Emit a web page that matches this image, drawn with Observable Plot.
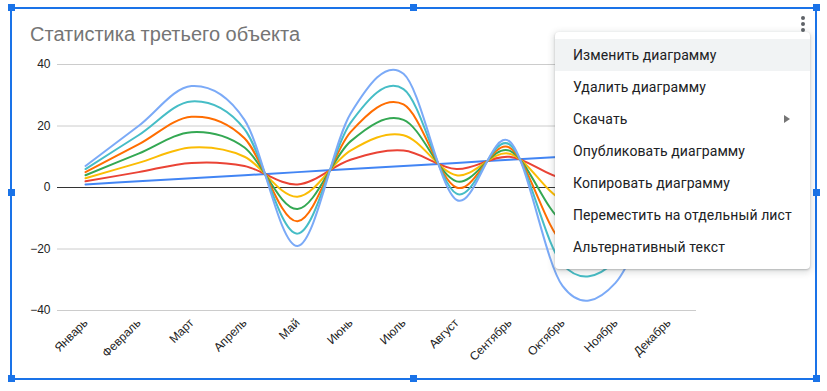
<!DOCTYPE html>
<html>
<head>
<meta charset="utf-8">
<script src="https://cdn.jsdelivr.net/npm/d3@7"></script>
<script src="https://cdn.jsdelivr.net/npm/@observablehq/plot@0.6"></script>
<style>
html, body { margin: 0; padding: 0; background: #fff; }
#wrap { position: relative; width: 827px; height: 391px; overflow: hidden; font-family: "Liberation Sans", Arial, sans-serif; }
#chart { position: absolute; left: 0; top: 0; }
#title { position: absolute; left: 30px; top: 23px; font-size: 20px; line-height: normal; color: #757575; white-space: nowrap; }
.frame { position: absolute; background: #1a73e8; }
.handle { position: absolute; width: 7px; height: 7px; background: #1a73e8; }
.dot { position: absolute; left: 801px; width: 4px; height: 4px; border-radius: 50%; background: #5f6368; }
#menu { position: absolute; left: 555px; top: 32px; width: 255px; height: 237px; background: #fff; border-radius: 4px;
  box-shadow: 0 2px 6px 2px rgba(60,64,67,.15), 0 1px 2px rgba(60,64,67,.3);
  font-family: Roboto, "Noto Sans", sans-serif; font-size: 14px; color: #202124; padding-top: 7px; box-sizing: border-box; z-index: 5; }
.item { height: 32px; line-height: 32px; padding-left: 18px; position: relative; white-space: nowrap; letter-spacing: 0.1px; }
.item.hl { background: #f1f3f4; }
.arrow { position: absolute; right: 20px; top: 12px; width: 0; height: 0; border-left: 6px solid #757575; border-top: 4px solid transparent; border-bottom: 4px solid transparent; }
</style>
</head>
<body>
<div id="wrap">
  <div id="chart"></div>
  <div id="title">Статистика третьего объекта</div>
  <div class="frame" style="left:10px;top:7px;width:807px;height:2px"></div>
  <div class="frame" style="left:10px;top:378px;width:807px;height:2px"></div>
  <div class="frame" style="left:10px;top:7px;width:2px;height:373px"></div>
  <div class="frame" style="left:815px;top:7px;width:2px;height:373px"></div>
  <div class="handle" style="left:8px;top:4px"></div>
  <div class="handle" style="left:410px;top:4px"></div>
  <div class="handle" style="left:813px;top:4px"></div>
  <div class="handle" style="left:8px;top:189px"></div>
  <div class="handle" style="left:813px;top:189px"></div>
  <div class="handle" style="left:8px;top:375px"></div>
  <div class="handle" style="left:410px;top:375px"></div>
  <div class="handle" style="left:813px;top:375px"></div>
  <div class="dot" style="top:16px"></div>
  <div class="dot" style="top:22px"></div>
  <div class="dot" style="top:28px"></div>
  <div id="menu">
    <div class="item hl">Изменить диаграмму</div>
    <div class="item">Удалить диаграмму</div>
    <div class="item">Скачать<span class="arrow"></span></div>
    <div class="item">Опубликовать диаграмму</div>
    <div class="item">Копировать диаграмму</div>
    <div class="item">Переместить на отдельный лист</div>
    <div class="item">Альтернативный текст</div>
  </div>
</div>
<script>
// Categories
const months = ["Январь", "Февраль", "Март", "Апрель", "Май", "Июнь", "Июль", "Август", "Сентябрь", "Октябрь", "Ноябрь", "Декабрь"];
// Series values (Oct–Dec partly hidden by the menu, estimated)
const series1 = [1, 2, 3, 4, 5, 6, 7, 8, 9, 10, 11, 12];
const series2 = [2, 5, 8, 7, 1, 9, 12, 6, 10, 3, 4, 11];
const series3 = [3, 8, 13, 10, -3, 12, 17, 4, 11, -4, -3, 10];
const series4 = [4, 11, 18, 13, -7, 15, 22, 2, 12, -11, -10, 9];
const series5 = [5, 14, 23, 16, -11, 18, 27, 0, 13, -18, -17, 8];
const series6 = [6, 17, 28, 19, -15, 21, 32, -2, 14, -25, -24, 7];
const series7 = [7, 20, 33, 22, -19, 24, 37, -4, 15, -32, -31, 6];
const seriesNames = ["Ряд 1", "Ряд 2", "Ряд 3", "Ряд 4", "Ряд 5", "Ряд 6", "Ряд 7"];
const seriesColors = ["#4285f4", "#ea4335", "#fbbc04", "#34a853", "#ff6d01", "#46bdc6", "#7baaf7"];
// Y tick labels
const yTicks = [-40, -20, 0, 20, 40];

const allSeries = [series1, series2, series3, series4, series5, series6, series7];
const data = [];
allSeries.forEach((vals, si) => vals.forEach((v, i) => data.push({month: months[i], value: v, series: seriesNames[si]})));

const chart = Plot.plot({
  width: 827,
  height: 391,
  marginLeft: 57,
  marginRight: 131,
  marginTop: 64,
  marginBottom: 81,
  style: {fontFamily: '"Liberation Sans", Arial, sans-serif', fontSize: "12px", color: "#222222", background: "transparent", overflow: "visible"},
  x: {type: "point", domain: months, padding: 0.5, axis: null},
  y: {domain: [-40, 40], axis: null, label: null},
  color: {domain: seriesNames, range: seriesColors},
  marks: [
    Plot.gridY(yTicks, {stroke: "#cccccc", strokeOpacity: 1, strokeWidth: 1}),
    Plot.ruleY([0], {stroke: "#333333", strokeWidth: 1}),
    Plot.axisY(yTicks, {tickSize: 0, tickPadding: 7, label: null, fill: "#222222", fontSize: 12}),
    Plot.text(months, {x: d => d, frameAnchor: "bottom", rotate: -45, textAnchor: "end", dx: 3, dy: 13, fill: "#222222", fontSize: 12}),
    Plot.line(data, {x: "month", y: "value", z: "series", stroke: "series", strokeWidth: 2, curve: "cardinal"})
  ]
});
document.getElementById("chart").appendChild(chart);
</script>
</body>
</html>
